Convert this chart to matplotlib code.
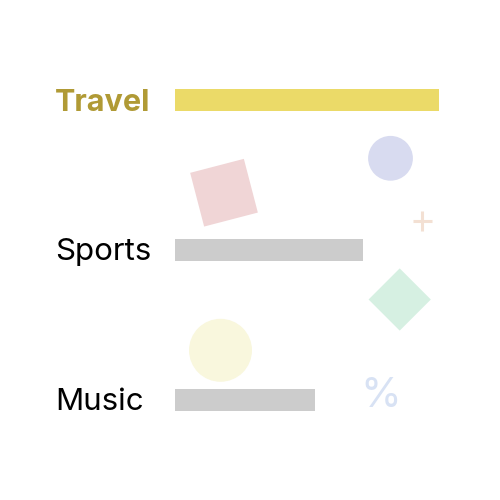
import numpy as np
import matplotlib.pyplot as plt
from matplotlib import transforms
from matplotlib.patches import Circle, Polygon

## Horizontal bar chart with one highlighted category and light decorations

categories = ['Travel', 'Sports', 'Music']
values = [85, 60.5, 45]
highlight = 'Travel'

plt.rcParams['font.family'] = ['Inter', 'DejaVu Sans']

fig = plt.figure(figsize=(5, 5), dpi=100)

# decoration layer in pixel coordinates (y pointing down)
deco = fig.add_axes([0, 0, 1, 1])
deco.set_xlim(0, 500)
deco.set_ylim(500, 0)
deco.axis('off')


def square(cx, cy, side, angle):
    'corners of a square rotated by angle (degrees) around its centre'
    a = np.deg2rad(angle)
    h = side / 2
    pts = np.array([[-h, -h], [h, -h], [h, h], [-h, h]])
    rot = np.array([[np.cos(a), -np.sin(a)], [np.sin(a), np.cos(a)]])
    return pts @ rot.T + [cx, cy]


deco.add_patch(Polygon(square(224, 192.7, 55.5, -14.6), color='#F0D5D6', lw=0))
deco.add_patch(Polygon(square(399.7, 299.5, 44, 45), color='#D6F0E2', lw=0))
deco.add_patch(Circle((390.5, 158.3), 22.4, color='#D8DBF0', lw=0))
deco.add_patch(Circle((220.5, 350.3), 31.5, color='#F9F7DD', lw=0))
deco.plot([412.5, 431.5], [220.7, 220.7], color='#F3E0D3', lw=2.2, solid_capstyle='butt')
deco.plot([422, 422], [211, 230.5], color='#F3E0D3', lw=2.2, solid_capstyle='butt')
deco.text(381, 396, '%', color='#D8E2F4', fontsize=30,
          ha='center', va='center')

# bars
ax = fig.add_axes([175 / 500, 0.05, (439 - 175) / 500, 0.9])
ax.patch.set_alpha(0)
pos = np.arange(len(categories))[::-1]
colors = ['#EBDA68' if c == highlight else '#CCCCCC' for c in categories]
ax.barh(pos, values, height=22 / 150, color=colors)
ax.set_xlim(0, 85)
ax.set_ylim(-0.5, 2.5)
ax.axis('off')

trans = transforms.blended_transform_factory(fig.transFigure, ax.transData)
for p, c in zip(pos, categories):
    if c == highlight:
        ax.text(55 / 500, p - 11 / 150, c, transform=trans, fontsize=22,
                fontweight='bold', color='#B09A35', va='baseline')
    else:
        ax.text(55 / 500, p - 10 / 150, c, transform=trans, fontsize=22.5,
                color='black', va='baseline')

plt.savefig('out.png', dpi=100)
